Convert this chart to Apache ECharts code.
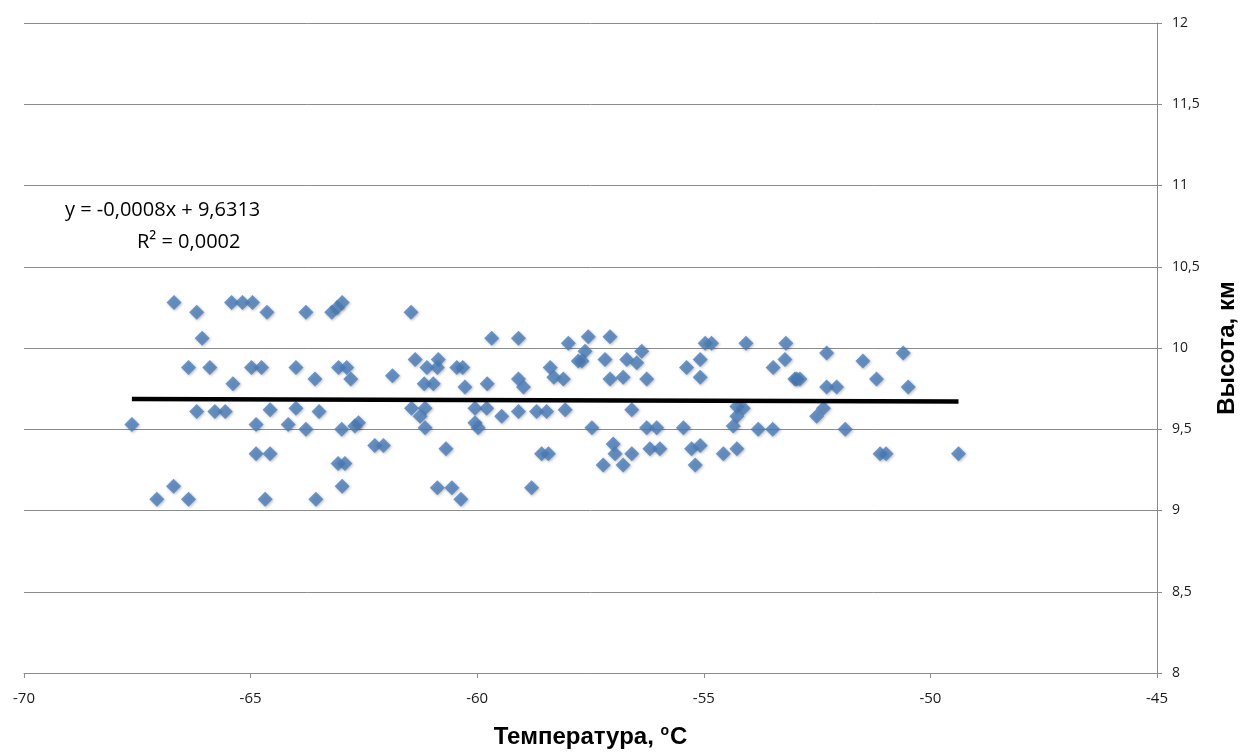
<!DOCTYPE html>
<html>
<head>
<meta charset="utf-8">
<title>Высота - температура</title>
<script src="https://cdn.jsdelivr.net/npm/echarts@6/dist/echarts.min.js"></script>
<style>
    html, body { margin: 0; padding: 0; background: #fff; }
    #chart { width: 1243px; height: 753px; }
</style>
</head>
<body>
<div id="chart"></div>
<script>
// температура, °C
const temps = [
    -67.62, -67.07, -66.69, -66.70, -66.37, -66.37, -66.19, -66.19, -66.07, -65.90,
    -65.79, -65.56, -65.39, -65.42, -65.18, -64.96, -64.98, -64.88, -64.88, -64.76,
    -64.68, -64.64, -64.57, -64.57, -64.17, -64.00, -64.00, -63.78, -63.78, -63.58,
    -63.56, -63.49, -63.21, -63.09, -62.98, -63.06, -62.88, -62.79, -62.99, -62.70,
    -63.07, -62.92, -62.98, -61.46, -59.68, -59.09, -57.99, -61.87, -61.37, -61.11,
    -60.86, -60.88, -61.17, -60.97, -60.45, -60.32, -60.27, -59.78, -59.09, -58.98,
    -58.39, -58.31, -58.10, -57.77, -62.62, -61.45, -61.15, -61.26, -61.15, -60.05,
    -59.79, -60.05, -59.98, -59.46, -59.09, -58.69, -58.47, -58.06, -62.26, -62.07,
    -60.69, -58.58, -58.43, -60.88, -60.56, -60.36, -58.80, -57.55, -57.07, -54.97,
    -54.83, -54.07, -53.19, -57.62, -57.69, -57.18, -56.70, -56.37, -56.48, -57.07,
    -56.78, -56.26, -55.38, -55.08, -55.08, -53.47, -53.21, -52.99, -56.59, -54.27,
    -54.13, -54.27, -54.35, -57.47, -56.26, -56.04, -55.45, -53.80, -53.48, -57.00,
    -56.96, -56.59, -57.22, -56.78, -56.19, -55.97, -55.27, -55.08, -55.19, -54.57,
    -54.27, -52.29, -50.60, -51.49, -52.95, -52.88, -51.19, -52.29, -52.07, -50.49,
    -52.36, -52.51, -51.88, -51.11, -50.98, -49.38
];
// высота, км
const heights = [
    9.53, 9.07, 10.28, 9.15, 9.88, 9.07, 10.22, 9.61, 10.06, 9.88,
    9.61, 9.61, 9.78, 10.28, 10.28, 10.28, 9.88, 9.53, 9.35, 9.88,
    9.07, 10.22, 9.62, 9.35, 9.53, 9.88, 9.63, 9.50, 10.22, 9.81,
    9.07, 9.61, 10.22, 10.25, 10.28, 9.88, 9.88, 9.81, 9.50, 9.52,
    9.29, 9.29, 9.15, 10.22, 10.06, 10.06, 10.03, 9.83, 9.93, 9.88,
    9.93, 9.88, 9.78, 9.78, 9.88, 9.88, 9.76, 9.78, 9.81, 9.76,
    9.88, 9.82, 9.81, 9.92, 9.54, 9.63, 9.63, 9.58, 9.51, 9.63,
    9.63, 9.54, 9.51, 9.58, 9.61, 9.61, 9.61, 9.62, 9.40, 9.40,
    9.38, 9.35, 9.35, 9.14, 9.14, 9.07, 9.14, 10.07, 10.07, 10.03,
    10.03, 10.03, 10.03, 9.98, 9.92, 9.93, 9.93, 9.98, 9.91, 9.81,
    9.82, 9.81, 9.88, 9.93, 9.82, 9.88, 9.93, 9.81, 9.62, 9.64,
    9.63, 9.58, 9.52, 9.51, 9.51, 9.51, 9.51, 9.50, 9.50, 9.41,
    9.35, 9.35, 9.28, 9.28, 9.38, 9.38, 9.38, 9.40, 9.28, 9.35,
    9.38, 9.97, 9.97, 9.92, 9.81, 9.81, 9.81, 9.76, 9.76, 9.76,
    9.63, 9.58, 9.50, 9.35, 9.35, 9.35
];

// линия тренда (из подписи на графике)
const trendSlope = -0.0008;
const trendIntercept = 9.6313;
const trendR2 = 0.0002;

const fmt = v => String(v).replace('.', ',');

const points = temps.map((t, i) => [t, heights[i]]);
const tMin = Math.min(...temps);
const tMax = Math.max(...temps);
const trend = [
    [tMin, trendSlope * tMin + trendIntercept],
    [tMax, trendSlope * tMax + trendIntercept]
];

const eqText = 'y = ' + fmt(trendSlope.toFixed(4)) + 'x + ' + fmt(trendIntercept.toFixed(4));
const r2Text = 'R² = ' + fmt(trendR2.toFixed(4));

const chart = echarts.init(document.getElementById('chart'));

const option = {
    animation: false,
    grid: { left: 24, right: 86, top: 23, bottom: 80, outerBoundsMode: 'none', containLabel: false },
    xAxis: {
        type: 'value',
        min: -70,
        max: -45,
        interval: 5,
        name: 'Температура, {sup|o}C',
        nameLocation: 'middle',
        nameGap: 51,
        nameTextStyle: {
            fontFamily: 'Liberation Sans',
            fontWeight: 'bold',
            fontSize: 24,
            color: '#000',
            rich: {
                sup: { fontFamily: 'Liberation Sans', fontSize: 14, color: '#000', verticalAlign: 'top', padding: [0, 1, 12, 0] }
            }
        },
        axisLine: { show: true, lineStyle: { color: '#8c8c8c', width: 1 } },
        axisTick: { show: true, length: 5, lineStyle: { color: '#8c8c8c' } },
        splitLine: { show: false },
        axisLabel: {
            margin: 18,
            fontFamily: 'Open Sans',
            fontSize: 15,
            color: '#1a1a1a',
            formatter: fmt
        }
    },
    yAxis: {
        type: 'value',
        position: 'right',
        min: 8,
        max: 12,
        interval: 0.5,
        name: 'Высота, км',
        nameLocation: 'middle',
        nameGap: 58,
        nameTextStyle: {
            fontFamily: 'Liberation Sans',
            fontWeight: 'bold',
            fontSize: 24,
            color: '#000'
        },
        axisLine: { show: true, lineStyle: { color: '#8c8c8c', width: 1 } },
        axisTick: { show: true, length: 5, lineStyle: { color: '#8c8c8c' } },
        splitLine: { show: true, lineStyle: { color: '#8c8c8c', width: 1 } },
        axisLabel: {
            margin: 15,
            fontFamily: 'Open Sans',
            fontSize: 14,
            color: '#1a1a1a',
            formatter: fmt
        }
    },
    graphic: [
        {
            type: 'text',
            left: 65,
            top: 200,
            style: { text: eqText, fontFamily: 'Open Sans', fontSize: 20, fill: '#000' }
        },
        {
            type: 'text',
            left: 137,
            top: 232,
            style: { text: r2Text, fontFamily: 'Open Sans', fontSize: 20, fill: '#000' }
        }
    ],
    series: [
        {
            name: 'Высота',
            type: 'scatter',
            symbol: 'diamond',
            symbolSize: 15,
            data: points,
            itemStyle: {
                color: '#4a7ebb',
                shadowBlur: 3,
                shadowColor: 'rgba(0,0,0,0.35)',
                shadowOffsetX: 1,
                shadowOffsetY: 1
            }
        },
        {
            name: 'Линейная',
            type: 'line',
            data: trend,
            symbol: 'none',
            z: 3,
            lineStyle: { color: '#000', width: 4.5 }
        }
    ]
};

chart.setOption(option);
</script>
</body>
</html>
